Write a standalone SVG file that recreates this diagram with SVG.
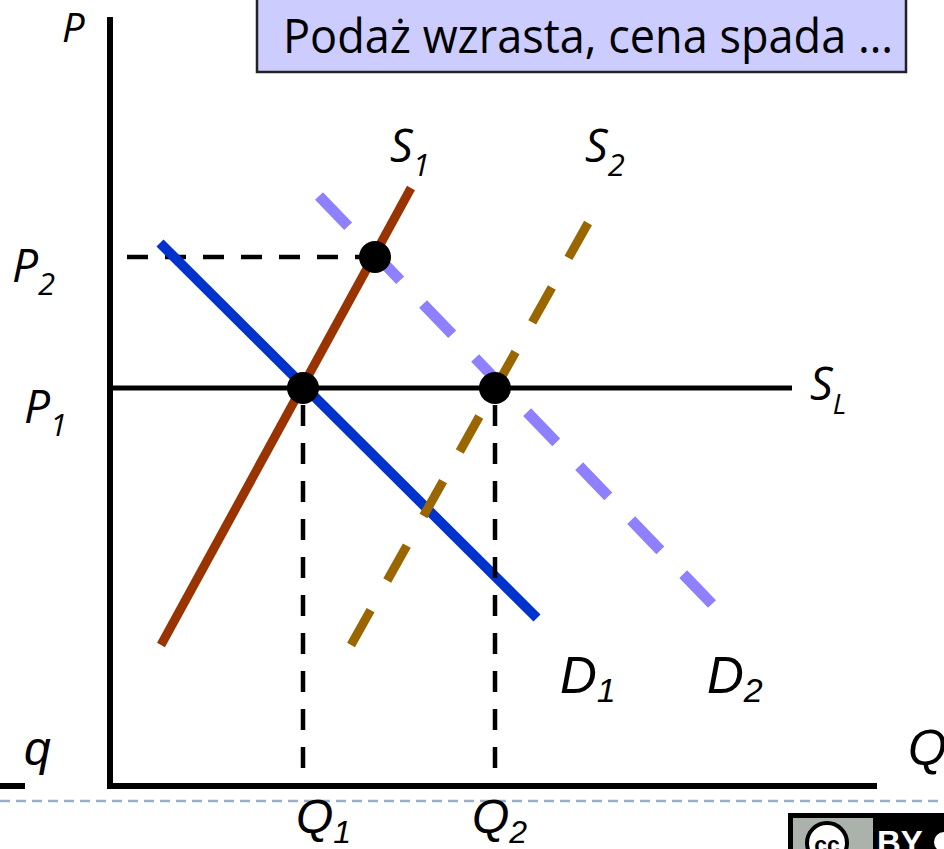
<svg xmlns="http://www.w3.org/2000/svg" width="944" height="849" viewBox="0 0 944 849">
<style>
.lbl{font-family:"Open Sans","Liberation Sans",sans-serif;font-style:italic;fill:#000}
.albl{font-family:"Liberation Sans",Arial,sans-serif;font-style:italic;fill:#000}
.axis{stroke:#000;stroke-width:6;fill:none}
.guide{stroke:#000;stroke-width:4.5;stroke-dasharray:21 17;fill:none}
.dot{fill:#000}
</style>
<rect width="944" height="849" fill="#fff"/>
<g id="title">
<rect x="257" y="-3" width="649" height="75" fill="#ccccff" stroke="#222" stroke-width="2.5"/>
<text x="283" y="53" font-family="'Open Sans','Liberation Sans',sans-serif" font-size="47" textLength="610" lengthAdjust="spacingAndGlyphs" fill="#000">Podaż wzrasta, cena spada …</text>
</g>
<g id="footer-line">
<line x1="0" y1="801" x2="944" y2="801" stroke="#9ab0c8" stroke-width="2.5" stroke-dasharray="10 6"/>
</g>
<g id="axes">
<line class="axis" x1="110" y1="17" x2="110" y2="789"/>
<line class="axis" x1="107" y1="786" x2="877" y2="786"/>
<line class="axis" x1="0" y1="786" x2="25" y2="786"/>
<text class="lbl" x="62" y="42" font-size="40">P</text>
<text class="albl" x="24" y="765" font-size="48">q</text>
<text class="albl" x="908" y="765" font-size="50">Q</text>
</g>
<g id="connectors">
<line x1="110" y1="388" x2="792" y2="388" stroke="#000" stroke-width="5"/>
<line class="guide" x1="127" y1="257" x2="372" y2="257"/>
<line x1="160" y1="243" x2="537" y2="618" stroke="#0033cc" stroke-width="10"/>
<line x1="161" y1="645" x2="411" y2="188" stroke="#993300" stroke-width="9"/>
<line class="guide" x1="303" y1="405" x2="303" y2="788"/>
<line class="guide" x1="495" y1="405" x2="495" y2="788"/>
<line x1="351" y1="645" x2="592" y2="216" stroke="#996600" stroke-width="9" stroke-dasharray="40 34"/>
<line x1="319" y1="196" x2="712" y2="604" stroke="#8f80ff" stroke-width="11" stroke-dasharray="42 33"/>
</g>
<g id="points">
<circle class="dot" cx="303" cy="388" r="16"/>
<circle class="dot" cx="375" cy="257" r="16"/>
<circle class="dot" cx="495" cy="388" r="16"/>
</g>
<g id="labels">
<text class="lbl" x="390" y="162" font-size="45">S<tspan font-size="31" dy="14">1</tspan></text>
<text class="lbl" x="585" y="162" font-size="45">S<tspan font-size="31" dy="14">2</tspan></text>
<text class="lbl" x="810" y="400" font-size="45">S<tspan font-size="28" dy="14">L</tspan></text>
<text class="lbl" x="12" y="282" font-size="46">P<tspan font-size="31" dy="13">2</tspan></text>
<text class="lbl" x="24" y="423" font-size="46">P<tspan font-size="31" dy="13">1</tspan></text>
<text class="albl" x="560" y="693" font-size="51">D<tspan font-size="34" dy="9">1</tspan></text>
<text class="albl" x="707" y="693" font-size="51">D<tspan font-size="34" dy="9">2</tspan></text>
<text class="albl" x="296" y="833" font-size="48">Q<tspan font-size="32" dy="10">1</tspan></text>
<text class="albl" x="472" y="833" font-size="48">Q<tspan font-size="32" dy="10">2</tspan></text>
</g>
<g id="cc-badge">
<rect x="788" y="813" width="170" height="45" fill="#000"/>
<rect x="793" y="818" width="80" height="40" fill="#aab2ab"/>
<circle cx="827" cy="843" r="20" fill="#fff" stroke="#000" stroke-width="4"/>
<text x="827" y="853" text-anchor="middle" font-family="'Liberation Sans',Arial,sans-serif" font-weight="bold" font-size="23" fill="#000">cc</text>
<text x="877" y="854" font-family="'Liberation Sans',Arial,sans-serif" font-weight="bold" font-size="33" fill="#fff">BY</text>
<circle cx="944" cy="842" r="10" fill="#fff"/>
</g>
</svg>
